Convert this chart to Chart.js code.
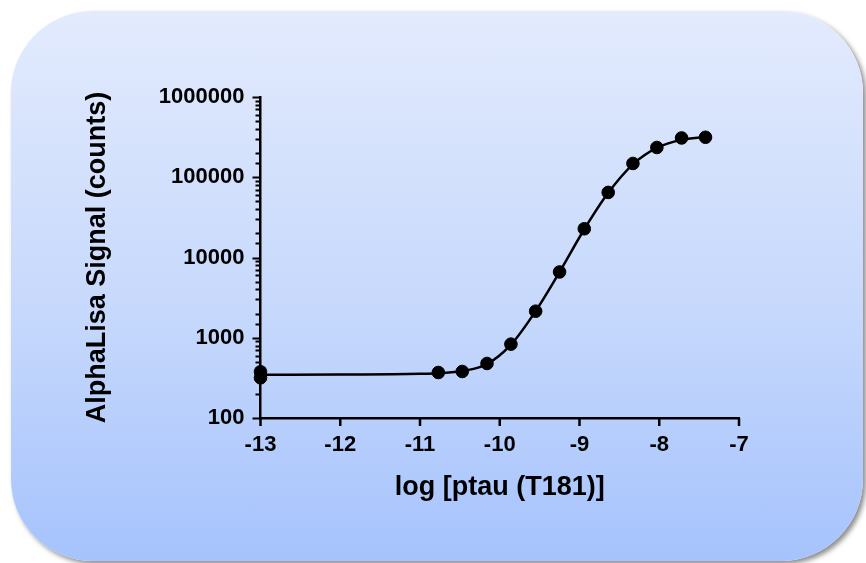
<!DOCTYPE html>
<html>
<head>
<meta charset="utf-8">
<script src="https://cdn.jsdelivr.net/npm/chart.js@4/dist/chart.umd.min.js"></script>
<style>
  html, body { margin: 0; padding: 0; background: #fff; }
  #wrap { position: relative; width: 866px; height: 563px; overflow: hidden; }
  #card {
    position: absolute; left: 11px; top: 11px; width: 852px; height: 550px;
    border-radius: 82px;
    background: linear-gradient(to bottom, #e3ebfd 0%, #c6d8fc 55%, #a6c3fd 100%);
    box-shadow: 3px 3px 5px rgba(0,0,0,0.45);
  }
  #myChart { position: absolute; left: 0; top: 0; }
</style>
</head>
<body>
<div id="wrap">
  <div id="card"></div>
  <canvas id="myChart" width="866" height="563"></canvas>
</div>
<script>
// measured points (log concentration, signal)
const pointX = [-13, -13, -10.77, -10.47, -10.16, -9.86, -9.55, -9.25, -8.94, -8.64, -8.33, -8.03, -7.72, -7.42];
const pointY = [377, 317, 369, 380, 478, 832, 2143, 6607, 22800, 64700, 148600, 235000, 309000, 315000];

// fitted curve
const fitX = [-13, -12, -11, -10.77, -10.47, -10.16, -9.86, -9.55, -9.25, -8.94, -8.64, -8.33, -8.03, -7.72, -7.42];
const fitY = [346, 348, 356, 362, 385, 470, 820, 2150, 6600, 22500, 64000, 145000, 232000, 292000, 318000];

const xTicks = [-13, -12, -11, -10, -9, -8, -7];
const yMajor = [100, 1000, 10000, 100000, 1000000];

const FONT = "'Liberation Sans', Arial, Helvetica, sans-serif";

// hand drawn tick marks (major/minor lengths differ)
const tickMarks = {
  id: 'tickMarks',
  afterDraw(chart) {
    const ctx = chart.ctx;
    const xs = chart.scales.x, ys = chart.scales.y;
    const area = chart.chartArea;
    ctx.save();
    ctx.strokeStyle = '#000';
    ctx.lineWidth = 2;
    ys.ticks.forEach(t => {
      const major = yMajor.includes(t.value);
      const py = Math.round(ys.getPixelForValue(t.value)) + 0.5;
      ctx.beginPath();
      ctx.moveTo(area.left, py);
      ctx.lineTo(area.left - (major ? 8 : 5), py);
      ctx.stroke();
    });
    ctx.lineWidth = 2.5;
    xTicks.forEach(v => {
      const px = xs.getPixelForValue(v);
      ctx.beginPath();
      ctx.moveTo(px, area.bottom);
      ctx.lineTo(px, area.bottom + 8);
      ctx.stroke();
    });
    ctx.restore();
  }
};

const ctx = document.getElementById('myChart').getContext('2d');
const myChart = new Chart(ctx, {
  data: {
    datasets: [{
      type: 'line',
      data: fitX.map((x, i) => ({x: x, y: fitY[i]})),
      borderColor: '#000',
      borderWidth: 2.5,
      pointRadius: 0,
      cubicInterpolationMode: 'monotone',
      fill: false,
      clip: false
    }, {
      type: 'scatter',
      data: pointX.map((x, i) => ({x: x, y: pointY[i]})),
      backgroundColor: '#000',
      borderColor: '#000',
      pointRadius: 6.3,
      clip: false
    }]
  },
  options: {
    responsive: false,
    animation: false,
    events: [],
    layout: { padding: { left: 60, right: 127, top: 97, bottom: 45 } },
    plugins: { legend: { display: false }, tooltip: { enabled: false } },
    scales: {
      x: {
        type: 'linear',
        min: -13, max: -7,
        afterFit: s => { s.height = 100; },
        afterBuildTicks: s => { s.ticks = xTicks.map(v => ({value: v})); },
        border: { color: '#000', width: 2.5 },
        grid: { drawOnChartArea: false, drawTicks: false },
        ticks: {
          color: '#000', padding: 14,
          font: { family: FONT, size: 22, weight: 'bold' },
          callback: v => String(v)
        },
        title: {
          display: true, text: 'log [ptau (T181)]', color: '#000',
          font: { family: FONT, size: 27, weight: 'bold' },
          padding: { top: 0, bottom: 14 }
        }
      },
      y: {
        type: 'logarithmic',
        min: 100, max: 1000000,
        afterFit: s => { s.width = 200.5; },
        border: { color: '#000', width: 2.5 },
        grid: { drawOnChartArea: false, drawTicks: false },
        ticks: {
          color: '#000', padding: 16, autoSkip: false,
          font: { family: FONT, size: 22, weight: 'bold' },
          callback: v => yMajor.includes(v) ? String(v) : ''
        },
        title: {
          display: true, text: 'AlphaLisa Signal (counts)', color: '#000',
          font: { family: FONT, size: 27, weight: 'bold' },
          padding: { top: 21, bottom: 0 }
        }
      }
    }
  },
  plugins: [tickMarks]
});
</script>
</body>
</html>
